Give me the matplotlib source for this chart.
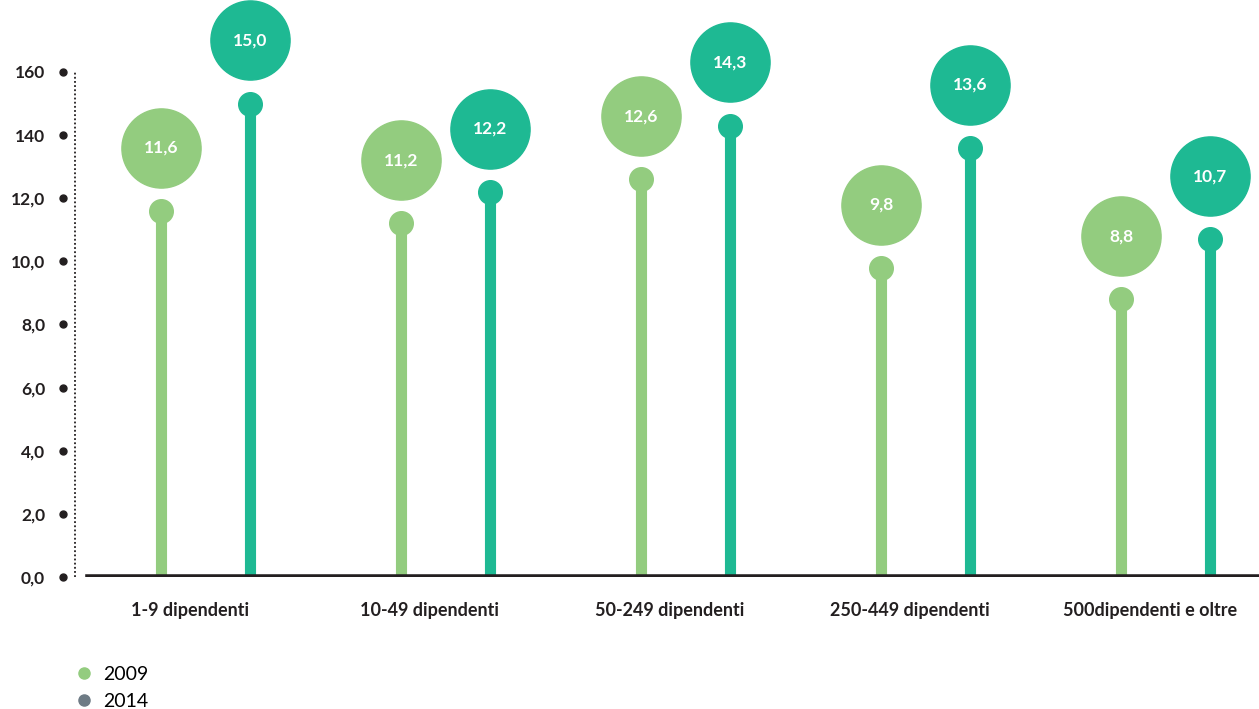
import matplotlib
matplotlib.use("Agg")
import matplotlib.pyplot as plt
from matplotlib.lines import Line2D
import numpy as np

categories = ["1-9 dipendenti", "10-49 dipendenti", "50-249 dipendenti",
              "250-449 dipendenti", "500dipendenti e oltre"]
v2009 = [11.6, 11.2, 12.6, 9.8, 8.8]
v2014 = [15.0, 12.2, 14.3, 13.6, 10.7]
yticks = [0, 2, 4, 6, 8, 10, 12, 14, 16]
ytick_labels = ["0,0", "2,0", "4,0", "6,0", "8,0", "10,0", "12,0", "140", "160"]
series_names = ["2009", "2014"]

c09 = "#93cc7f"
c14 = "#1eb993"
legend_c = ["#93cc7f", "#6e7b85"]

plt.rcParams["font.family"] = ["Lato", "DejaVu Sans"]

fig = plt.figure(figsize=(12.59, 7.09), dpi=100)
ax = fig.add_axes([75 / 1259, 1 - 577 / 709, 1 - 75 / 1259, 577 / 709])

x = np.arange(len(categories))
off09, off14 = -0.12, 0.25
bubble_gap = 2.0

for xs, vals, col in [(x + off09, v2009, c09), (x + off14, v2014, c14)]:
    ax.vlines(xs, 0, vals, color=col, lw=8, zorder=2)
    ax.plot(xs, vals, "o", ms=17, color=col, zorder=3)
    ax.plot(xs, np.array(vals) + bubble_gap, "o", ms=57, color=col, zorder=3,
            clip_on=False)
    for xi, v in zip(xs, vals):
        ax.text(xi, v + bubble_gap, f"{v:.1f}".replace(".", ","), color="white",
                fontsize=12.5, fontweight="bold", ha="center", va="center", zorder=4)

ax.set_xlim(-0.479, 4.454)
ax.set_ylim(0, 18.28)

# baseline and dotted axis
ax.axhline(0, xmin=13 / 1184, xmax=1, color="#231f20", lw=4, zorder=5)
ax.plot([0, 0], [0, 16], transform=ax.get_yaxis_transform(), ls=(0, (1, 1.3)),
        color="#231f20", lw=1.3, clip_on=False)
for sp in ax.spines.values():
    sp.set_visible(False)

# y ticks as dots
ax.set_yticks(yticks)
ax.set_yticklabels(ytick_labels, fontsize=12.5, fontweight="bold", color="#231f20")
ax.tick_params(axis="y", length=0, pad=21.5)
ax.plot([-12 / 1184] * len(yticks), yticks, "o", ms=5, color="#231f20",
        transform=ax.get_yaxis_transform(), clip_on=False)

ax.set_xticks(x)
ax.set_xticklabels(categories, fontsize=13, fontweight="bold", color="#231f20")
ax.tick_params(axis="x", length=0, pad=18)

handles = [Line2D([], [], marker="o", ls="", ms=8, color=c) for c in legend_c]
fig.legend(handles, series_names, loc="upper left", bbox_to_anchor=(74 / 1259, 1 - 666 / 709),
           frameon=False, fontsize=14, handletextpad=0.5, labelspacing=0.5,
           handlelength=1.0, borderaxespad=0, borderpad=0)

fig.savefig("out.png", dpi=100)
